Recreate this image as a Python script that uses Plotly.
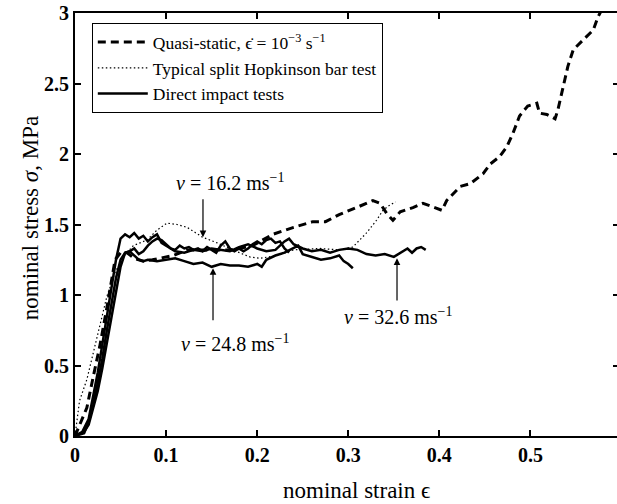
import plotly.graph_objects as go

# Quasi-static test (dashed)
qs_strain = [0, 0.005, 0.013, 0.02, 0.027, 0.035, 0.04, 0.044, 0.05, 0.057, 0.065, 0.075, 0.085, 0.093,
             0.108, 0.123, 0.148, 0.173, 0.195, 0.217, 0.24, 0.261, 0.275, 0.29, 0.309, 0.327, 0.335,
             0.342, 0.349, 0.357, 0.371, 0.382, 0.395, 0.403, 0.408, 0.423, 0.434, 0.448, 0.456, 0.466,
             0.474, 0.481, 0.488, 0.497, 0.507, 0.51, 0.518, 0.527, 0.53, 0.536, 0.541, 0.547, 0.558,
             0.569, 0.574, 0.578]
qs_stress = [0, 0.08, 0.2, 0.42, 0.63, 0.91, 1.1, 1.25, 1.30, 1.30, 1.26, 1.24, 1.25, 1.26,
             1.28, 1.32, 1.32, 1.32, 1.35, 1.43, 1.48, 1.52, 1.52, 1.57, 1.62, 1.67, 1.65,
             1.58, 1.53, 1.59, 1.62, 1.65, 1.62, 1.60, 1.67, 1.77, 1.79, 1.86, 1.93, 1.98,
             2.05, 2.15, 2.27, 2.34, 2.36, 2.29, 2.28, 2.25, 2.31, 2.48, 2.62, 2.74, 2.81,
             2.88, 2.97, 3.02]

# Typical split Hopkinson bar test (dotted)
shpb_strain = [0, 0.002, 0.005, 0.013, 0.02, 0.027, 0.035, 0.044, 0.053, 0.064, 0.079, 0.09, 0.101,
               0.112, 0.123, 0.14, 0.156, 0.173, 0.192, 0.203, 0.222, 0.24, 0.269, 0.29, 0.305,
               0.32, 0.331, 0.338, 0.346, 0.352]
shpb_stress = [0, 0.11, 0.25, 0.40, 0.59, 0.77, 0.99, 1.16, 1.27, 1.35, 1.39, 1.46, 1.51,
               1.50, 1.48, 1.41, 1.37, 1.32, 1.27, 1.26, 1.28, 1.32, 1.33, 1.32, 1.34,
               1.44, 1.53, 1.60, 1.64, 1.66]

# Direct impact tests (solid)
v162_strain = [0, 0.008, 0.015, 0.02, 0.025, 0.03, 0.035, 0.04, 0.045, 0.05, 0.055, 0.06, 0.065, 0.07,
               0.075, 0.08, 0.085, 0.09, 0.095, 0.10, 0.105, 0.11, 0.115, 0.12, 0.125, 0.13, 0.135,
               0.14, 0.145, 0.15, 0.155, 0.16, 0.165, 0.17, 0.175, 0.18, 0.185, 0.19, 0.195, 0.20,
               0.205, 0.21, 0.215, 0.22, 0.225, 0.23, 0.235]
v162_stress = [0, 0.03, 0.12, 0.28, 0.45, 0.65, 0.85, 1.05, 1.25, 1.40, 1.43, 1.41, 1.44, 1.40,
               1.42, 1.38, 1.41, 1.43, 1.37, 1.35, 1.33, 1.32, 1.35, 1.33, 1.34, 1.32, 1.33,
               1.31, 1.34, 1.32, 1.30, 1.35, 1.38, 1.33, 1.31, 1.33, 1.31, 1.33, 1.36, 1.38,
               1.36, 1.39, 1.40, 1.37, 1.38, 1.33, 1.30]

v248_strain = [0, 0.01, 0.015, 0.02, 0.025, 0.03, 0.035, 0.04, 0.045, 0.05, 0.055, 0.06, 0.065, 0.07,
               0.075, 0.08, 0.09, 0.10, 0.11, 0.12, 0.13, 0.14, 0.15, 0.16, 0.17, 0.18, 0.19, 0.20,
               0.205, 0.21, 0.22, 0.23, 0.24, 0.245, 0.25, 0.26, 0.27, 0.28, 0.29, 0.295, 0.30, 0.305]
v248_stress = [0, 0.02, 0.1, 0.22, 0.38, 0.55, 0.75, 0.95, 1.12, 1.25, 1.30, 1.31, 1.28, 1.25,
               1.24, 1.25, 1.24, 1.25, 1.26, 1.24, 1.22, 1.23, 1.20, 1.22, 1.21, 1.21, 1.20, 1.22,
               1.20, 1.25, 1.28, 1.30, 1.33, 1.35, 1.29, 1.27, 1.25, 1.26, 1.28, 1.24, 1.22, 1.19]

v326_strain = [0, 0.01, 0.015, 0.02, 0.025, 0.03, 0.035, 0.04, 0.045, 0.05, 0.055, 0.06, 0.065, 0.07,
               0.075, 0.08, 0.085, 0.09, 0.095, 0.10, 0.105, 0.11, 0.12, 0.13, 0.14, 0.15, 0.16, 0.17,
               0.18, 0.19, 0.20, 0.21, 0.22, 0.23, 0.235, 0.24, 0.25, 0.26, 0.27, 0.28, 0.29, 0.30,
               0.31, 0.32, 0.33, 0.34, 0.35, 0.355, 0.36, 0.365, 0.37, 0.375, 0.38, 0.385]
v326_stress = [0, 0.03, 0.08, 0.2, 0.32, 0.48, 0.66, 0.85, 1.03, 1.2, 1.30, 1.31, 1.33, 1.29,
               1.31, 1.35, 1.38, 1.40, 1.39, 1.36, 1.33, 1.31, 1.30, 1.32, 1.31, 1.33, 1.32, 1.31,
               1.34, 1.36, 1.33, 1.31, 1.32, 1.38, 1.40, 1.36, 1.33, 1.31, 1.32, 1.30, 1.32, 1.33,
               1.32, 1.29, 1.28, 1.29, 1.27, 1.29, 1.31, 1.33, 1.30, 1.33, 1.34, 1.32]

x_ticks = [0, 0.1, 0.2, 0.3, 0.4, 0.5]
x_tick_labels = ["0", "0.1", "0.2", "0.3", "0.4", "0.5"]
y_ticks = [0, 0.5, 1, 1.5, 2, 2.5, 3]
y_tick_labels = ["0", "0.5", "1", "1.5", "2", "2.5", "3"]

x_title = "nominal strain ϵ"
y_title = "nominal stress <i>σ</i>, MPa"

legend_names = ["Quasi-static, ϵ̇ = 10<sup>−3</sup> s<sup>−1</sup>",
                "Typical split Hopkinson bar test",
                "Direct impact tests"]

labels = ["<i>v</i> = 16.2 ms<sup>−1</sup>", "<i>v</i> = 24.8 ms<sup>−1</sup>", "<i>v</i> = 32.6 ms<sup>−1</sup>"]
label_pos = [(0.170, 1.80), (0.176, 0.66), (0.355, 0.85)]
arrow_x = [0.1405, 0.1515, 0.3535]
arrow_tail = [1.69, 0.81, 0.95]
arrow_tip = [1.41, 1.19, 1.26]

SERIF = "Liberation Serif, Times New Roman, serif"

fig = go.Figure()
fig.add_trace(go.Scatter(x=qs_strain, y=qs_stress, mode="lines", name=legend_names[0],
                         line=dict(color="black", width=3, dash="8px,5px")))
fig.add_trace(go.Scatter(x=shpb_strain, y=shpb_stress, mode="lines", name=legend_names[1],
                         line=dict(color="black", width=1.2, dash="1.5px,2.5px")))
fig.add_trace(go.Scatter(x=v162_strain, y=v162_stress, mode="lines", name=legend_names[2],
                         line=dict(color="black", width=2.5)))
fig.add_trace(go.Scatter(x=v248_strain, y=v248_stress, mode="lines", showlegend=False,
                         line=dict(color="black", width=2.5)))
fig.add_trace(go.Scatter(x=v326_strain, y=v326_stress, mode="lines", showlegend=False,
                         line=dict(color="black", width=2.5)))
# invisible trace for right-hand tick marks
fig.add_trace(go.Scatter(x=[0], y=[0], yaxis="y2", mode="lines", showlegend=False,
                         line=dict(color="rgba(0,0,0,0)"), hoverinfo="skip"))

for i, t in enumerate(labels):
    fig.add_annotation(x=label_pos[i][0], y=label_pos[i][1], xref="x", yref="y", text=t,
                       xanchor="center", yanchor="middle",
                       showarrow=False, font=dict(family=SERIF, size=20, color="black"))
    fig.add_annotation(x=arrow_x[i], y=arrow_tip[i], ax=arrow_x[i], ay=arrow_tail[i],
                       xref="x", yref="y", axref="x", ayref="y", text="", showarrow=True,
                       arrowhead=2, arrowsize=1.1, arrowwidth=1.2, arrowcolor="black")

fig.add_annotation(x=0.52, y=-0.128, xref="paper", yref="paper", text=x_title, showarrow=False,
                   xanchor="center", yanchor="middle",
                   font=dict(family=SERIF, size=23, color="black"))
fig.add_annotation(x=-0.083, y=0.515, xref="paper", yref="paper", text=y_title, showarrow=False,
                   xanchor="center", yanchor="middle",
                   textangle=-90, font=dict(family=SERIF, size=23, color="black"))

fig.update_layout(
    width=617, height=504, autosize=False,
    margin=dict(l=75, r=0, t=13, b=68, autoexpand=False),
    paper_bgcolor="white", plot_bgcolor="white",
    font=dict(family=SERIF, color="black"),
    showlegend=True,
    legend=dict(x=0.031, y=0.976, xanchor="left", yanchor="top",
                bgcolor="white", bordercolor="black", borderwidth=1,
                font=dict(family=SERIF, size=17.5, color="black"),
                tracegroupgap=0, itemwidth=50),
    xaxis=dict(range=[0, 0.595], tickvals=x_ticks, ticktext=x_tick_labels, automargin=False,
               showline=True, linecolor="black", linewidth=2, mirror="ticks",
               ticks="inside", ticklen=6, tickwidth=2, tickcolor="black",
               showgrid=False, zeroline=False,
               tickfont=dict(family=SERIF, size=20, color="black", weight="bold")),
    yaxis=dict(range=[0, 3], tickvals=y_ticks, ticktext=y_tick_labels, automargin=False,
               showline=True, linecolor="black", linewidth=2, mirror=False,
               ticks="inside", ticklen=6, tickwidth=2, tickcolor="black",
               showgrid=False, zeroline=False,
               tickfont=dict(family=SERIF, size=20, color="black", weight="bold")),
    yaxis2=dict(range=[0, 3], tickvals=y_ticks, overlaying="y", side="right", automargin=False,
                showline=False, ticks="inside", ticklen=4, tickwidth=2, tickcolor="black",
                showticklabels=False, showgrid=False, zeroline=False),
)

page_fix = ("document.body.style.margin='0';document.body.style.padding='0';"
            "document.body.style.overflow='hidden';"
            "var gd=document.getElementById('{plot_id}');"
            "Plotly.relayout(gd,{width:617,height:504});")

fig.write_html("out.html", config={"responsive": False, "displayModeBar": False},
               post_script=page_fix)
